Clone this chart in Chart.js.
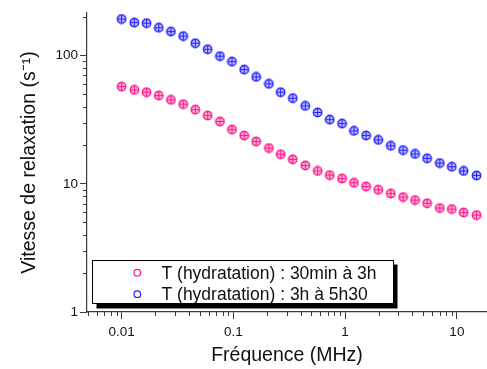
<!DOCTYPE html>
<html>
<head>
<meta charset="utf-8">
<script src="https://cdn.jsdelivr.net/npm/chart.js@4/dist/chart.umd.min.js"></script>
<style>
html, body { margin: 0; padding: 0; background: #fff; overflow: hidden; }
/* a bit wider than the window so the x axis runs off the right edge */
#wrap { width: 492px; height: 369px; position: relative; }
</style>
</head>
<body>
<div id="wrap"><canvas id="relax-chart"></canvas></div>
<script>
// values (log-log)
const freqMHz = [0.01, 0.013, 0.0167, 0.0215, 0.0276, 0.0356, 0.0456, 0.0589, 0.0759, 0.0971,
    0.125, 0.160, 0.208, 0.265, 0.340, 0.440, 0.568, 0.728, 0.938, 1.20,
    1.54, 1.98, 2.56, 3.30, 4.22, 5.41, 7.03, 9.00, 11.5, 15.0];
const rate30min3h = [57.3, 54.0, 51.8, 48.8, 45.2, 41.8, 37.9, 34.1, 30.6, 26.5,
    23.8, 21.4, 19.0, 17.0, 15.5, 13.9, 12.6, 11.7, 11.0, 10.2,
    9.53, 8.98, 8.40, 7.88, 7.46, 7.05, 6.47, 6.35, 5.97, 5.70];
const rate3h5h30 = [193, 181, 179, 165, 154, 142, 125, 112, 99, 89.8,
    77.8, 68.2, 60.2, 51.8, 46.6, 40.5, 36.0, 31.7, 29.5, 25.9,
    23.8, 22.0, 19.8, 18.3, 17.1, 15.8, 14.5, 13.6, 12.6, 11.6];
const seriesLabels = ['T (hydratation) : 30min à 3h', 'T (hydratation) : 3h à 5h30'];
const xTickValues = [0.01, 0.1, 1, 10];
const yTickValues = [1, 10, 100];

const PINK = '#ff1a8c';
const BLUE = '#2222ff';
const AXIS = '#3a3a3a';
const FONT = "'Liberation Sans', Arial, sans-serif";

// circle with a cross, like the origin symbols
const makeMarker = (color, fill) => {
    const c = document.createElement('canvas');
    c.width = 11; c.height = 11;
    const g = c.getContext('2d');
    g.fillStyle = fill;
    g.strokeStyle = color;
    g.lineWidth = 1.4;
    g.beginPath(); g.arc(5.5, 5.5, 4.2, 0, Math.PI * 2); g.fill(); g.stroke();
    g.lineWidth = 1;
    g.beginPath();
    g.moveTo(5.5, 1.5); g.lineTo(5.5, 9.5);
    g.moveTo(1.5, 5.5); g.lineTo(9.5, 5.5);
    g.stroke();
    return c;
};

const toPoints = (ys) => freqMHz.map((f, i) => ({ x: f, y: ys[i] }));

// short minor ticks (2..9 of every decade), drawn outward
const minorTicks = {
    id: 'minorTicks',
    afterDraw(chart) {
        const ctx = chart.ctx;
        ctx.save();
        ctx.strokeStyle = AXIS;
        ctx.lineWidth = 1;
        ['x', 'y'].forEach(id => {
            const s = chart.scales[id];
            const lo = Math.floor(Math.log10(s.min));
            const hi = Math.ceil(Math.log10(s.max));
            for (let d = lo; d <= hi; d++) {
                for (let m = 2; m <= 9; m++) {
                    const v = m * Math.pow(10, d);
                    if (v < s.min || v > s.max) continue;
                    const p = Math.round(s.getPixelForValue(v)) + 0.5;
                    ctx.beginPath();
                    if (id === 'x') {
                        ctx.moveTo(p, s.top); ctx.lineTo(p, s.top + 4);
                    } else {
                        ctx.moveTo(s.right, p); ctx.lineTo(s.right - 4, p);
                    }
                    ctx.stroke();
                }
            }
        });
        ctx.restore();
    }
};

// framed legend with drop shadow inside the plot
const boxLegend = {
    id: 'boxLegend',
    afterDraw(chart) {
        const ctx = chart.ctx;
        const bx = 92, by = 260, bw = 301, bh = 43;
        ctx.save();
        ctx.fillStyle = '#000';
        ctx.fillRect(bx + 4.5, by + 4.5, bw, bh + 1);
        ctx.fillStyle = '#fff';
        ctx.fillRect(bx, by, bw, bh);
        ctx.strokeStyle = '#000';
        ctx.lineWidth = 1;
        ctx.strokeRect(bx + 0.5, by + 0.5, bw, bh);
        ctx.font = '17.5px ' + FONT;
        ctx.textBaseline = 'alphabetic';
        ctx.textAlign = 'left';
        chart.data.datasets.forEach((ds, i) => {
            const rowY = by + 12.7 + i * 21.5;
            ctx.strokeStyle = ds.borderColor;
            ctx.lineWidth = 1.2;
            ctx.beginPath();
            ctx.arc(137.3, rowY, 3.3, 0, Math.PI * 2);
            ctx.stroke();
            ctx.fillStyle = '#111';
            ctx.fillText(ds.label, 161.5, rowY + 5.8);
        });
        ctx.restore();
    }
};

const ctx = document.getElementById('relax-chart').getContext('2d');
const relaxChart = new Chart(ctx, {
    type: 'scatter',
    data: {
        datasets: [
            {
                label: seriesLabels[0],
                data: toPoints(rate30min3h),
                borderColor: PINK,
                pointStyle: makeMarker(PINK, 'rgba(255,26,140,0.35)'),
            },
            {
                label: seriesLabels[1],
                data: toPoints(rate3h5h30),
                borderColor: BLUE,
                pointStyle: makeMarker(BLUE, 'rgba(34,34,255,0.3)'),
            }
        ]
    },
    options: {
        responsive: true,
        maintainAspectRatio: false,
        animation: false,
        layout: { padding: { top: 13, right: 0, left: 0, bottom: 0 } },
        plugins: { legend: { display: false }, tooltip: { enabled: false } },
        scales: {
            x: {
                type: 'logarithmic',
                min: 0.0049,
                max: 18.6,
                afterFit: (s) => { s.height = 57; s.paddingLeft = 0; s.paddingRight = 0; },
                afterBuildTicks: (s) => { s.ticks = xTickValues.map(v => ({ value: v })); },
                border: { color: AXIS, width: 1.2 },
                grid: { drawOnChartArea: false, tickLength: 7, tickColor: AXIS },
                ticks: {
                    color: '#111', padding: 5, maxRotation: 0,
                    font: { family: FONT, size: 13.5 },
                    callback: (v) => String(v)
                },
                title: {
                    display: true, text: 'Fréquence (MHz)', color: '#111',
                    font: { family: FONT, size: 19.5 }, padding: { bottom: 2, top: 0 }
                }
            },
            y: {
                type: 'logarithmic',
                min: 1,
                max: 215,
                afterFit: (s) => { s.width = 87; s.paddingTop = 0; s.paddingBottom = 0; },
                afterBuildTicks: (s) => { s.ticks = yTickValues.map(v => ({ value: v })); },
                border: { color: AXIS, width: 1.2 },
                grid: { drawOnChartArea: false, tickLength: 7, tickColor: AXIS },
                ticks: {
                    color: '#111', padding: 2,
                    font: { family: FONT, size: 13.5 },
                    callback: (v) => String(v)
                },
                title: {
                    display: true, text: 'Vitesse de relaxation (s⁻¹)', color: '#111',
                    font: { family: FONT, size: 19.5 }, padding: { top: 18, bottom: 0 }
                }
            }
        }
    },
    plugins: [minorTicks, boxLegend]
});
</script>
</body>
</html>
